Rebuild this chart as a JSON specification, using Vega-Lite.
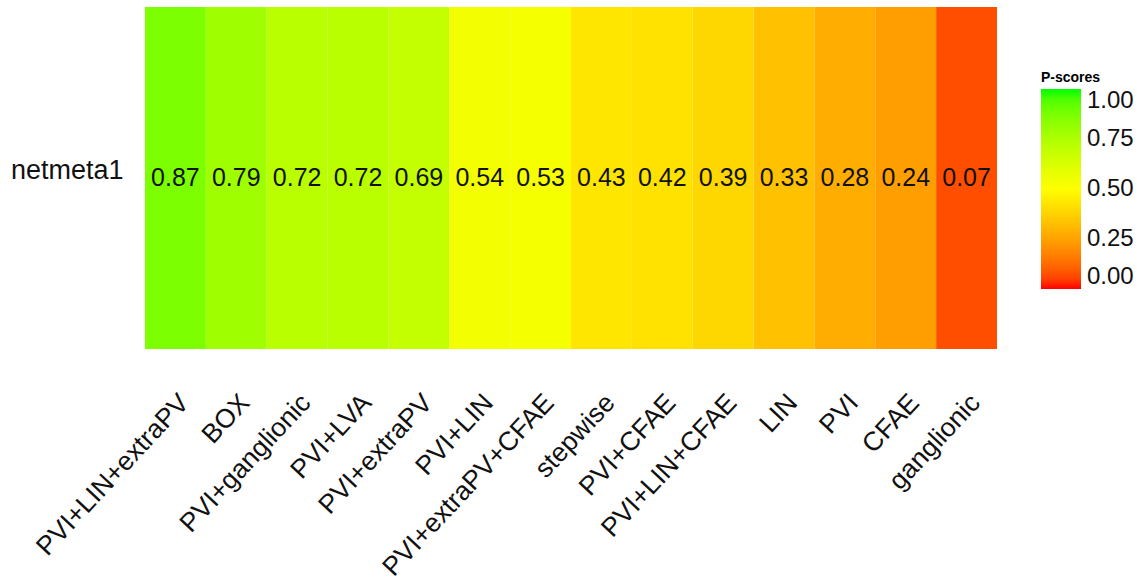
{
  "$schema": "https://vega.github.io/schema/vega-lite/v6.json",
  "width": 852,
  "height": 342,
  "autosize": "none",
  "padding": {"left": 145, "top": 7, "right": 145, "bottom": 236},
  "background": "white",
  "config": {"view": {"stroke": null}, "font": "Liberation Sans"},
  "data": {"values": [
    {"trt": "PVI+LIN+extraPV", "model": "netmeta1", "p": 0.87},
    {"trt": "BOX", "model": "netmeta1", "p": 0.79},
    {"trt": "PVI+ganglionic", "model": "netmeta1", "p": 0.72},
    {"trt": "PVI+LVA", "model": "netmeta1", "p": 0.72},
    {"trt": "PVI+extraPV", "model": "netmeta1", "p": 0.69},
    {"trt": "PVI+LIN", "model": "netmeta1", "p": 0.54},
    {"trt": "PVI+extraPV+CFAE", "model": "netmeta1", "p": 0.53},
    {"trt": "stepwise", "model": "netmeta1", "p": 0.43},
    {"trt": "PVI+CFAE", "model": "netmeta1", "p": 0.42},
    {"trt": "PVI+LIN+CFAE", "model": "netmeta1", "p": 0.39},
    {"trt": "LIN", "model": "netmeta1", "p": 0.33},
    {"trt": "PVI", "model": "netmeta1", "p": 0.28},
    {"trt": "CFAE", "model": "netmeta1", "p": 0.24},
    {"trt": "ganglionic", "model": "netmeta1", "p": 0.07}
  ]},
  "encoding": {
    "x": {"field": "trt", "type": "nominal", "sort": null, "title": null,
      "scale": {"paddingInner": 0, "paddingOuter": 0},
      "axis": {"labelAngle": -47, "labelFontSize": 26.5, "labelColor": "#111", "ticks": false, "domain": false, "labelPadding": 49, "labelAlign": "right", "labelBaseline": "middle", "labelLimit": 400, "labelOffset": 9}},
    "y": {"field": "model", "type": "nominal", "title": null,
      "axis": {"labelFontSize": 27, "labelColor": "#111", "ticks": false, "domain": false, "labelPadding": 22, "labelOffset": -7}}
  },
  "layer": [
    {"mark": {"type": "rect"},
      "encoding": {"color": {"field": "p", "type": "quantitative", "title": "P-scores",
        "scale": {"domain": [0, 0.5, 1], "range": ["#ff0000", "#ffff00", "#00ff00"], "interpolate": "lab"},
        "legend": {"orient": "none", "legendX": 896, "legendY": 64, "gradientLength": 200, "gradientThickness": 40,
          "titleFontSize": 14, "titleFontWeight": "bold", "labelFontSize": 24, "labelColor": "#111", "labelBaseline": "middle",
          "values": [0, 0.25, 0.5, 0.75, 1], "format": ".2f", "direction": "vertical", "labelOffset": 6, "titlePadding": 4}}}},
    {"mark": {"type": "text", "fontSize": 25, "color": "#111"},
      "encoding": {"text": {"field": "p", "type": "quantitative", "format": ".2f"}}}
  ]
}
